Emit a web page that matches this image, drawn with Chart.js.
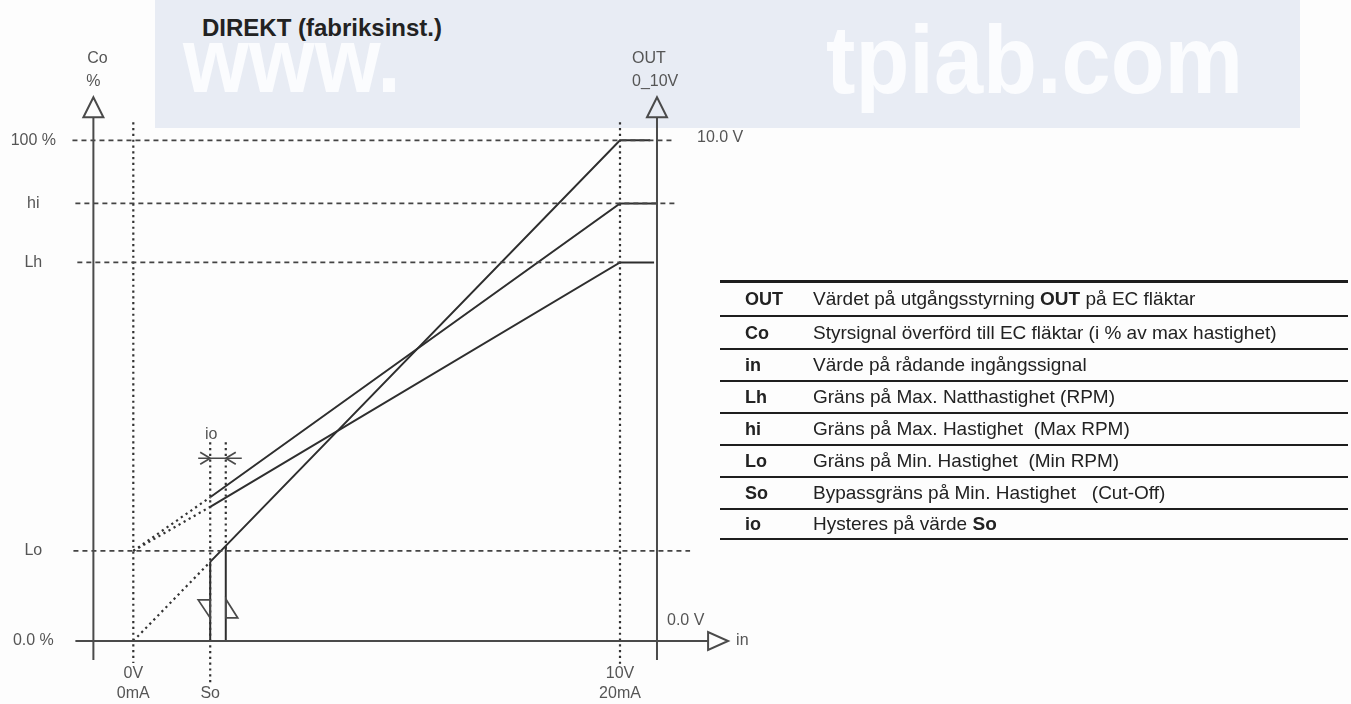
<!DOCTYPE html>
<html>
<head>
<meta charset="utf-8">
<script src="https://cdn.jsdelivr.net/npm/chart.js@4.4.1/dist/chart.umd.min.js"></script>
<style>
html,body{margin:0;padding:0;background:#fdfdfd;width:1351px;height:704px;overflow:hidden;font-family:"Liberation Sans",Arial,sans-serif;}
#wmBand{position:absolute;left:155px;top:0;width:1145px;height:128px;background:#e8ecf4;}
.wmText{position:absolute;color:#fbfcfe;font-family:"Liberation Sans",Arial,sans-serif;font-weight:bold;white-space:nowrap;transform-origin:0 0;}
#title{position:absolute;left:202px;top:16px;font-size:24px;line-height:24px;font-weight:bold;color:#222;white-space:nowrap;}
#chartBox{position:absolute;left:0;top:0;width:1351px;height:704px;}
.trow{position:absolute;left:720px;width:628px;box-sizing:border-box;border-top:2.5px solid #1e1e1e;color:#222;}
.trow .k{position:absolute;left:25px;font-weight:bold;font-size:18px;}
.trow .d{position:absolute;left:93px;font-size:19px;white-space:nowrap;}
.trow span{top:50%;transform:translateY(-50%);line-height:20px;}
</style>
</head>
<body>
<div id="wmBand"></div>
<div class="wmText" style="left:183px;top:14px;font-size:92px;line-height:92px;transform:scaleX(0.92);">www.</div>
<div class="wmText" style="left:826px;top:12px;font-size:96px;line-height:96px;transform:scaleX(0.92);">tpiab.com</div>
<div id="title">DIREKT (fabriksinst.)</div>
<div id="chartBox"><canvas id="c" width="1351" height="704"></canvas></div>
<div id="table"></div>
<script>
// ---------- data (x = input signal in V, y = Co in %) ----------
const inputTicks = [0, 1.58, 10];
const inputTickLabels = [["0V", "0mA"], ["", "So"], ["10V", "20mA"]];
const coTicks = [0, 18, 75.6, 87.4, 100];
const coTickLabels = ["0.0 %", "Lo", "Lh", "hi", "100 %"];

// solid characteristic lines
const coMaxX = [1.58, 10, 10.62];
const coMaxY = [15.8, 100, 100];
const hiLineX = [1.58, 10, 10.76];
const hiLineY = [28.7, 87.4, 87.4];
const lhLineX = [1.58, 10, 10.7];
const lhLineY = [26.8, 75.6, 75.6];
const soEdgeX = [1.58, 1.58];
const soEdgeY = [0, 15.8];
const soIoEdgeX = [1.9, 1.9];
const soIoEdgeY = [0, 19];

// dotted extrapolations below So
const extCoX = [0, 1.58];
const extCoY = [0, 15.8];
const extHiX = [0, 1.58];
const extHiY = [18, 28.7];
const extLhX = [0, 1.58];
const extLhY = [18, 26.8];

// dashed horizontal guide lines
const guide100X = [-1.25, 11.09];
const guide100Y = [100, 100];
const guideHiX = [-1.19, 11.17];
const guideHiY = [87.4, 87.4];
const guideLhX = [-1.15, 10];
const guideLhY = [75.6, 75.6];
const guideLoX = [-1.23, 11.44];
const guideLoY = [18, 18];

// dotted vertical guide lines
const vZeroX = [0, 0];
const vZeroY = [103.6, -4.4];
const vTenX = [10, 10];
const vTenY = [103.6, -4.8];
const vSoX = [1.58, 1.58];
const vSoY = [39.7, -8.8];
const vSoIoX = [1.9, 1.9];
const vSoIoY = [39.7, 18];

// axes (value space)
const axisLeftX = -0.82;
const axisRightX = 10.76;
const axisBottomY = -3.8;
const axisArrowBaseY = 104.6;
const xAxisStartX = -1.19;
const xAxisArrowBaseX = 11.81;
const ioMarkerY = 36.5;
const flagTopY = 8.2;
const flagBottomY = 4.6;

// legend table
const tableKeys = ["OUT", "Co", "in", "Lh", "hi", "Lo", "So", "io"];
const tableTexts = [
  ["Värdet på utgångsstyrning ", "OUT", " på EC fläktar"],
  ["Styrsignal överförd till EC fläktar (i % av max hastighet)"],
  ["Värde på rådande ingångssignal"],
  ["Gräns på Max. Natthastighet (RPM)"],
  ["Gräns på Max. Hastighet\u00a0 (Max RPM)"],
  ["Gräns på Min. Hastighet\u00a0 (Min RPM)"],
  ["Bypassgräns på Min. Hastighet\u00a0\u00a0 (Cut-Off)"],
  ["Hysteres på värde ", "So"]
];
const tableLines = [280, 315, 348, 380, 412, 444, 476, 508, 540];

// ---------- table ----------
const tbl = document.getElementById('table');
tableKeys.forEach((k, i) => {
  const r = document.createElement('div');
  r.className = 'trow';
  r.style.top = tableLines[i] + 'px';
  r.style.height = (tableLines[i + 1] - tableLines[i]) + 'px';
  if (i === 0) r.style.borderTopWidth = '3px';
  if (i === tableKeys.length - 1) r.style.borderBottom = '2.5px solid #1e1e1e';
  const ks = document.createElement('span'); ks.className = 'k'; ks.textContent = k;
  const ds = document.createElement('span'); ds.className = 'd';
  tableTexts[i].forEach((seg, j) => {
    if (j % 2 === 1) { const b = document.createElement('b'); b.textContent = seg; ds.appendChild(b); }
    else ds.appendChild(document.createTextNode(seg));
  });
  r.appendChild(ks); r.appendChild(ds);
  tbl.appendChild(r);
});

// ---------- chart ----------
const pts = (xs, ys) => xs.map((v, i) => ({x: v, y: ys[i]}));
const solid = (xs, ys) => ({data: pts(xs, ys), borderColor: '#2e2e2e', borderWidth: 2, showLine: true, pointRadius: 0, clip: false, borderDash: []});
const dashed = (xs, ys) => ({data: pts(xs, ys), borderColor: '#444', borderWidth: 1.7, showLine: true, pointRadius: 0, clip: false, borderDash: [5, 4]});
const dotted = (xs, ys) => ({data: pts(xs, ys), borderColor: '#333', borderWidth: 2.2, showLine: true, pointRadius: 0, clip: false, borderDash: [2.2, 3.6]});

const TXT = '#555';
const FONT = '16px "Liberation Sans", Arial, sans-serif';

const diagram = {
  id: 'diagram',
  afterDatasetsDraw(chart) {
    const {ctx, scales: {x, y}} = chart;
    const px = v => x.getPixelForValue(v), py = v => y.getPixelForValue(v);
    ctx.save();
    ctx.setLineDash([]);
    ctx.strokeStyle = '#4a4a4a';
    ctx.lineWidth = 2;
    const seg = (a, b, c, d) => { ctx.beginPath(); ctx.moveTo(a, b); ctx.lineTo(c, d); ctx.stroke(); };
    const tri = (p) => { ctx.beginPath(); ctx.moveTo(p[0][0], p[0][1]); ctx.lineTo(p[1][0], p[1][1]); ctx.lineTo(p[2][0], p[2][1]); ctx.closePath(); ctx.stroke(); };
    // vertical axes with arrows
    [axisLeftX, axisRightX].forEach(ax => {
      const X = px(ax), base = py(axisArrowBaseY);
      seg(X, py(axisBottomY), X, base);
      tri([[X - 10, base], [X + 10, base], [X, base - 20]]);
    });
    // horizontal axis with arrow
    const Y0 = py(0), xb = px(xAxisArrowBaseX);
    seg(px(xAxisStartX), Y0, xb, Y0);
    tri([[xb, Y0 - 9], [xb, Y0 + 9], [xb + 20, Y0]]);
    // hysteresis flags
    ctx.lineWidth = 1.7;
    const s1 = px(soEdgeX[0]), s2 = px(soIoEdgeX[0]);
    tri([[s1 - 12, py(flagTopY)], [s1, py(flagTopY)], [s1, py(flagBottomY)]]);
    tri([[s2, py(flagTopY) - 1], [s2 + 12, py(flagBottomY)], [s2, py(flagBottomY)]]);
    // io marker
    const iy = py(ioMarkerY);
    seg(s1 - 12, iy, s2 + 16, iy);
    seg(s1 - 10, iy - 6, s1, iy); seg(s1, iy, s1 - 10, iy + 6);
    seg(s2 + 10, iy - 6, s2, iy); seg(s2, iy, s2 + 10, iy + 6);
    // text labels
    ctx.fillStyle = TXT;
    ctx.font = FONT;
    ctx.textBaseline = 'middle';
    ctx.textAlign = 'center';
    const L = px(axisLeftX), R = px(axisRightX);
    ctx.fillText('Co', L + 4, py(116.4));
    ctx.fillText('%', L, py(111.8));
    ctx.fillText('io', s1 + 1, py(41.3));
    ctx.textAlign = 'left';
    ctx.fillText('OUT', R - 25, py(116.4));
    ctx.fillText('0_10V', R - 25, py(111.8));
    ctx.fillText('10.0 V', R + 40, py(100.5));
    ctx.fillText('0.0 V', R + 10, py(4));
    ctx.fillText('in', xb + 28, Y0);
    ctx.restore();
  }
};

new Chart(document.getElementById('c'), {
  type: 'scatter',
  data: {
    datasets: [
      dashed(guide100X, guide100Y), dashed(guideHiX, guideHiY), dashed(guideLhX, guideLhY), dashed(guideLoX, guideLoY),
      dotted(vZeroX, vZeroY), dotted(vTenX, vTenY), dotted(vSoX, vSoY), dotted(vSoIoX, vSoIoY),
      dotted(extCoX, extCoY), dotted(extHiX, extHiY), dotted(extLhX, extLhY),
      solid(coMaxX, coMaxY), solid(hiLineX, hiLineY), solid(lhLineX, lhLineY),
      solid(soEdgeX, soEdgeY), solid(soIoEdgeX, soIoEdgeY)
    ]
  },
  options: {
    responsive: false,
    animation: false,
    devicePixelRatio: 1,
    layout: {padding: {left: 0, right: 619.06, top: 90.23, bottom: 0}},
    plugins: {legend: {display: false}, tooltip: {enabled: false}, title: {display: false}},
    scales: {
      x: {
        type: 'linear', min: -1.3, max: 12.3,
        grid: {display: false, drawTicks: false}, border: {display: false},
        afterFit: s => { s.height = 42.47; },
        afterBuildTicks: s => { s.ticks = inputTicks.map(v => ({value: v})); },
        ticks: {
          autoSkip: false, maxRotation: 0, padding: 2, color: TXT,
          font: {family: '"Liberation Sans", Arial, sans-serif', size: 16, lineHeight: 1.25},
          callback: (v, i) => inputTickLabels[i]
        }
      },
      y: {
        type: 'linear', min: -4.1, max: 110,
        grid: {display: false, drawTicks: false}, border: {display: false},
        afterFit: s => { s.width = 70.03; },
        afterBuildTicks: s => { s.ticks = coTicks.map(v => ({value: v})); },
        ticks: {
          autoSkip: false, padding: 14, crossAlign: 'center', color: TXT,
          font: {family: '"Liberation Sans", Arial, sans-serif', size: 16},
          callback: (v, i) => coTickLabels[i]
        }
      }
    }
  },
  plugins: [diagram]
});
</script>
</body>
</html>
